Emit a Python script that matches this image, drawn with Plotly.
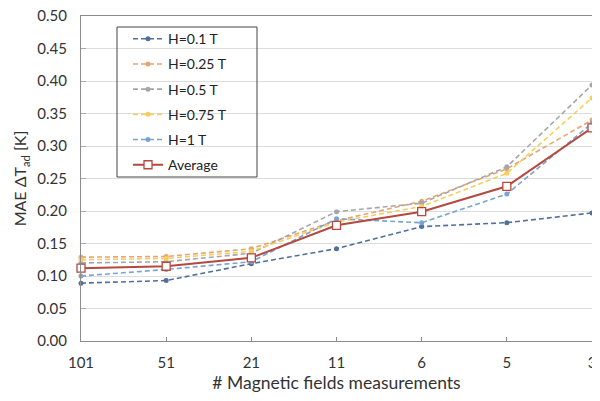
import plotly.graph_objects as go

categories = ["101", "51", "21", "11", "6", "5", "3"]
h01 = [0.089, 0.093, 0.119, 0.142, 0.176, 0.182, 0.197]
h025 = [0.129, 0.130, 0.142, 0.185, 0.215, 0.265, 0.340]
h05 = [0.120, 0.122, 0.135, 0.199, 0.212, 0.268, 0.394]
h075 = [0.125, 0.127, 0.138, 0.183, 0.207, 0.258, 0.374]
h1 = [0.100, 0.110, 0.122, 0.188, 0.182, 0.226, 0.335]
average = [0.112, 0.115, 0.128, 0.178, 0.199, 0.238, 0.328]

series = [
    ("H=0.1 T", h01, "#4F6F9C"),
    ("H=0.25 T", h025, "#E8A56E"),
    ("H=0.5 T", h05, "#A3A7AD"),
    ("H=0.75 T", h075, "#F5CF5A"),
    ("H=1 T", h1, "#79A4D0"),
]

xs = list(range(len(categories)))
fig = go.Figure()
for i, (name, vals, col) in enumerate(series):
    fig.add_trace(go.Scatter(
        x=xs, y=vals, name=name, mode="lines+markers",
        line=dict(color=col, width=1.6, dash="5px,3px"),
        marker=dict(color=col, size=5, symbol="circle"),
        legendgroup=str(i), cliponaxis=False,
    ))
fig.add_trace(go.Scatter(
    x=xs, y=average, name="Average", mode="lines+markers",
    line=dict(color="#B5483F", width=2),
    marker=dict(color="white", size=8, symbol="square",
                line=dict(color="#B5483F", width=1.3)),
    legendgroup="avg", cliponaxis=False,
))

PW, PH = 511, 325  # plot area size (px)
font = "Lato, 'Open Sans', sans-serif"
fig.update_layout(
    width=584, height=385,
    margin=dict(l=73, r=0, t=8, b=52),
    paper_bgcolor="white", plot_bgcolor="white",
    font=dict(family=font, size=15, color="#333333"),
    showlegend=True,
    legend=dict(x=0.092, y=0.978, xanchor="left", yanchor="top",
                bgcolor="rgba(0,0,0,0)", borderwidth=0,
                font=dict(size=14, color="#222222"),
                tracegroupgap=4, itemwidth=30),
    xaxis=dict(range=[0, 6], tickmode="array", tickvals=xs, ticktext=categories,
               showgrid=False, showline=True, linecolor="#8C8C8C", linewidth=1,
               mirror=True, ticks="inside", ticklen=4, tickcolor="#8C8C8C",
               zeroline=False, automargin=False, ticklabeloverflow="allow",
               ticklabelstandoff=8,
               title=dict(text="# Magnetic fields measurements",
                          font=dict(size=17.5), standoff=6),
               tickfont=dict(size=15)),
    yaxis=dict(range=[0, 0.5], tickmode="array",
               tickvals=[0, 0.05, 0.1, 0.15, 0.2, 0.25, 0.3, 0.35, 0.4, 0.45, 0.5],
               tickformat=".2f", showgrid=True, gridcolor="#DDDDDD", gridwidth=1,
               showline=True, linecolor="#8C8C8C", linewidth=1, mirror=True,
               zeroline=False, ticks="inside", ticklen=5, tickcolor="#A8A8A8",
               tickfont=dict(size=15), automargin=False,
               ticklabelstandoff=10, ticklabeloverflow="allow",
               title=dict(text="MAE ΔT<sub>ad</sub> [K]", font=dict(size=16), standoff=6)),
    shapes=[dict(type="rect", xref="paper", yref="paper",
                 x0=(117 - 81) / PW, x1=(257 - 81) / PW,
                 y0=(341 - 177) / PH, y1=(341 - 27) / PH,
                 line=dict(color="#444444", width=1), fillcolor="rgba(0,0,0,0)",
                 layer="above")],
)
fig.write_html("out.html")
